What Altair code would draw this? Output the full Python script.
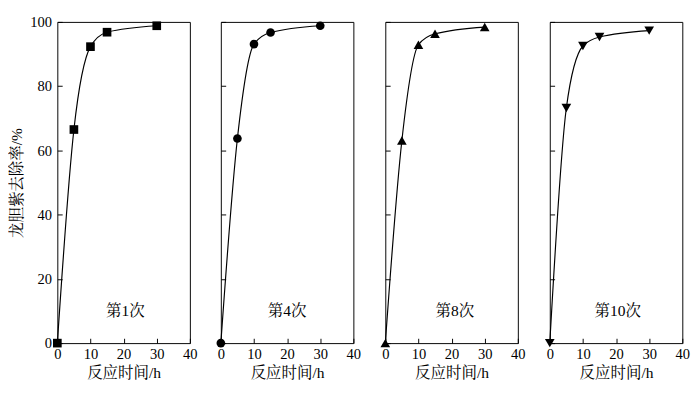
import altair as alt
import pandas as pd

# ---- data ----
time_h = [0, 5, 10, 15, 30]
run_labels = ["第1次", "第4次", "第8次", "第10次"]
removal_run1 = [0, 66.5, 92.3, 96.8, 98.8]
removal_run4 = [0, 63.7, 93.1, 96.7, 98.8]
removal_run8 = [0, 63.1, 92.9, 96.3, 98.4]
removal_run10 = [0, 73.2, 92.5, 95.3, 97.3]
removals = [removal_run1, removal_run4, removal_run8, removal_run10]
shapes = ["square", "circle", "triangle-up", "triangle-down"]
marker_sizes = [80, 80, 100, 100]
x_labels = [0, 10, 20, 30, 40]
y_labels = [0, 20, 40, 60, 80, 100]
label_pos_x = [20.5, 20, 21, 20.5]
label_pos_y = [10, 10, 10, 10]

FONT = "Liberation Serif, Times New Roman, Noto Serif CJK SC, Noto Sans CJK SC"
W, H = 137, 332
TICK = 5
XDOM = alt.Scale(domain=[0, 40], nice=False)
YDOM = alt.Scale(domain=[0, 100], nice=False)


def panel(i):
    df = pd.DataFrame({"t": time_h, "r": removals[i]})
    y_axis_kw = dict(values=y_labels, ticks=True, tickSize=TICK, tickColor="black",
                     tickWidth=1, offset=-TICK, domain=False, grid=False,
                     labelPadding=6, titlePadding=6)
    if i == 0:
        y_axis_kw["title"] = "龙胆紫去除率/%"
    else:
        y_axis_kw["labels"] = False
        y_axis_kw["title"] = ""
    x_enc = alt.X("t:Q", scale=XDOM,
                  axis=alt.Axis(values=x_labels, ticks=True, tickSize=TICK,
                                tickColor="black", tickWidth=1, offset=-TICK,
                                domain=False, grid=False, labelFlush=False,
                                labelPadding=4, titlePadding=4, title="反应时间/h"))
    y_enc = alt.Y("r:Q", scale=YDOM, axis=alt.Axis(**y_axis_kw))

    line = alt.Chart(df).mark_line(interpolate="monotone", color="black",
                                   strokeWidth=1.2).encode(x=x_enc, y=y_enc)
    pts = alt.Chart(df).mark_point(shape=shapes[i], filled=True, color="black",
                                   opacity=1, size=marker_sizes[i]).encode(x=x_enc, y=y_enc)

    lab_df = pd.DataFrame({"t": [label_pos_x[i]], "r": [label_pos_y[i]],
                           "lab": [run_labels[i]]})
    lab = alt.Chart(lab_df).mark_text(font=FONT, fontSize=16, color="black").encode(
        x=x_enc, y=y_enc, text="lab:N")

    return alt.layer(line, pts, lab).properties(width=W, height=H)


chart = alt.hconcat(*[panel(i) for i in range(4)], spacing=19).configure_view(
    stroke="black", strokeWidth=1
).configure_axis(
    labelFont=FONT, titleFont=FONT, labelFontSize=15, titleFontSize=16,
    labelColor="black", titleColor="black", titleFontWeight="normal"
).properties(padding={"left": 0, "top": 0, "right": 2, "bottom": 0})

chart.save("out.html", embed_options={"renderer": "svg", "actions": False})
